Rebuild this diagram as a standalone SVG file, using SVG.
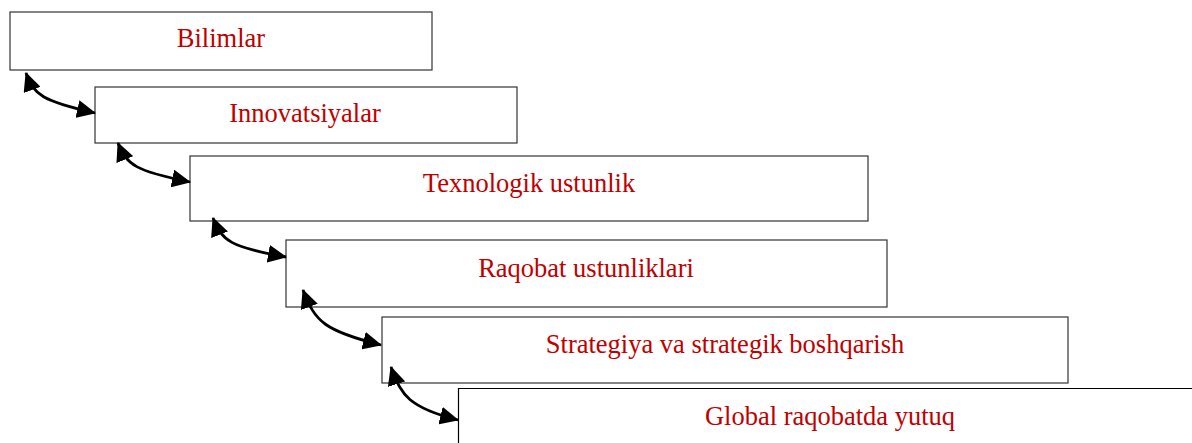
<svg xmlns="http://www.w3.org/2000/svg" width="1192" height="443" viewBox="0 0 1192 443">
<style>
.box{fill:#fff;stroke:#333;stroke-width:1.2}
.lbl{font-family:"Liberation Serif","Times New Roman",serif;font-size:26.5px;fill:#c00000;text-anchor:middle}
.con{fill:none;stroke:#000;stroke-width:2.8}
</style>
<defs>
<marker id="ah" markerUnits="userSpaceOnUse" markerWidth="20" markerHeight="18" refX="18" refY="9" orient="auto-start-reverse" viewBox="0 0 20 18">
<path d="M0,0 L19,9 L0,18 Z" fill="#000"/>
</marker>
</defs>
<rect width="1192" height="443" fill="#fff"/>
<g id="n1"><rect class="box" x="10" y="12" width="422" height="58"/><text class="lbl" x="221" y="47">Bilimlar</text></g>
<g id="n2"><rect class="box" x="95" y="87" width="422" height="56"/><text class="lbl" x="305" y="122">Innovatsiyalar</text></g>
<g id="n3"><rect class="box" x="190" y="156" width="678" height="65"/><text class="lbl" x="529" y="192">Texnologik ustunlik</text></g>
<g id="n4"><rect class="box" x="286" y="240" width="601" height="67"/><text class="lbl" x="586" y="277">Raqobat ustunliklari</text></g>
<g id="n5"><rect class="box" x="382" y="317" width="686" height="66"/><text class="lbl" x="725" y="353">Strategiya va strategik boshqarish</text></g>
<g id="n6"><path d="M458.5,443 V388.5 H1192" fill="none" stroke="#000" stroke-width="1.2"/><text class="lbl" x="830" y="425">Global raqobatda yutuq</text></g>
<g id="connectors">
<path class="con" d="M26,73 C34,95 42,101 95,113" marker-start="url(#ah)" marker-end="url(#ah)"/>
<path class="con" d="M118,143 C127,165 135,171 190,182" marker-start="url(#ah)" marker-end="url(#ah)"/>
<path class="con" d="M213,218 C222,241 230,247 286,257" marker-start="url(#ah)" marker-end="url(#ah)"/>
<path class="con" d="M303,290 C315,322 325,331 381,345" marker-start="url(#ah)" marker-end="url(#ah)"/>
<path class="con" d="M391,367 C400,395 410,408 458,420" marker-start="url(#ah)" marker-end="url(#ah)"/>
</g>
</svg>
